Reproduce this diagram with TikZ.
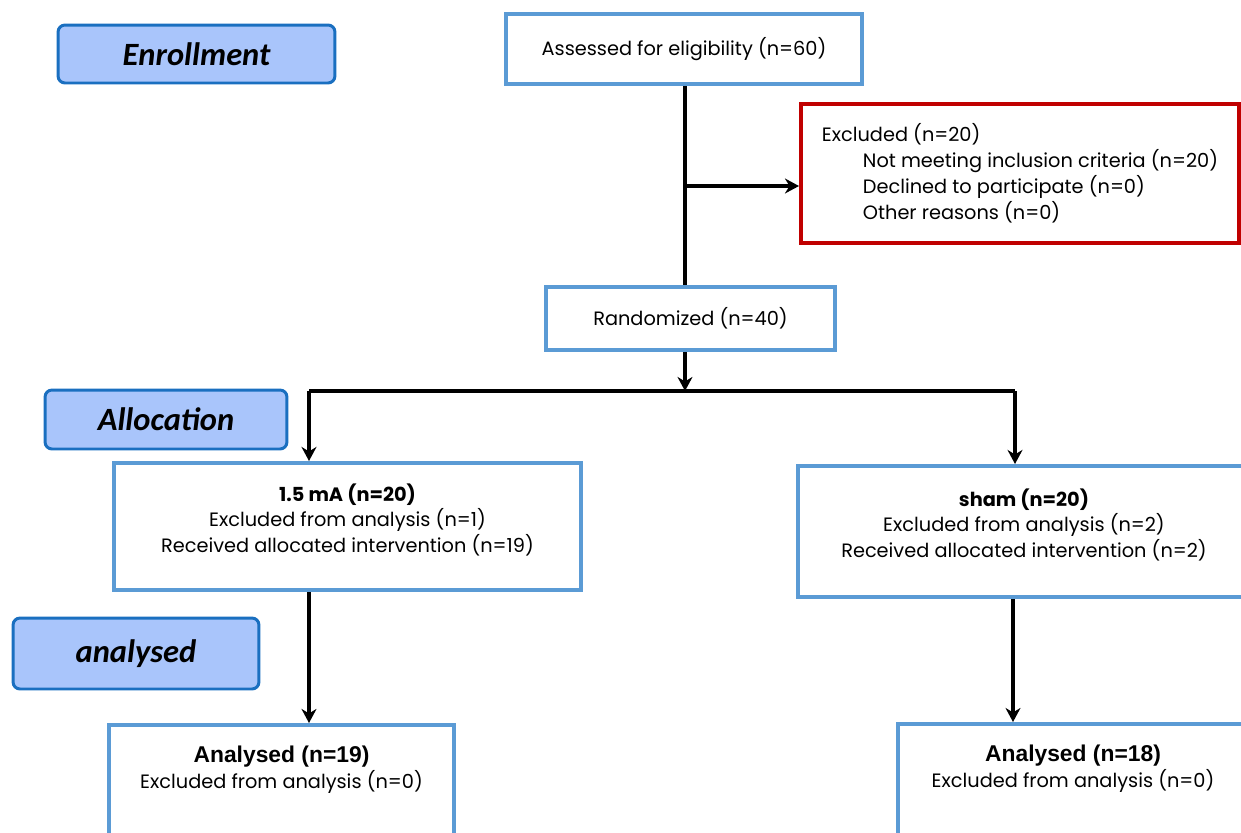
\documentclass[tikz,border=0pt]{standalone}
\usepackage{fontspec}
\setmainfont{Poppins}
\newfontfamily\stagefont{Carlito}
\newfontfamily\arialfont{Liberation Sans}
\usepackage{tikz}
\usetikzlibrary{arrows.meta}

\definecolor{boxblue}{HTML}{5B9BD5}
\definecolor{stagefill}{HTML}{A9C5FB}
\definecolor{stageline}{HTML}{1A6FC0}
\definecolor{exred}{HTML}{C00000}

\begin{document}
\begin{tikzpicture}[x=0.02cm,y=-0.02cm,>={Stealth[length=8pt,width=8.5pt]},
                    line width=2.3pt, font=\fontsize{11}{14.7}\selectfont]
  \tikzstyle{stage}=[draw=stageline,fill=stagefill,rounded corners=4pt,line width=1.7pt,
                     font=\stagefont\bfseries\itshape\fontsize{18.5}{20}\selectfont]
  \tikzstyle{flow}=[draw=boxblue,line width=2.3pt,align=center,inner sep=0pt]
  \tikzstyle{bottom}=[flow,anchor=north,inner sep=0.42cm,text depth=2.2cm]

  \useasboundingbox (0,0) rectangle (1241,832);
  \clip (0,0) rectangle (1241,832);

  % stage labels
  \node[stage,minimum width=5.54cm,minimum height=1.16cm] (enrol) at (196.5,54)  {Enrollment};
  \node[stage,minimum width=4.84cm,minimum height=1.18cm] (alloc) at (166,419.5) {Allocation};
  \node[stage,minimum width=4.92cm,minimum height=1.42cm] (anal)  at (136,653.5) {analysed};

  % boxes
  \node[flow,minimum width=7.12cm,minimum height=1.4cm] (assess) at (684,49) {Assessed for eligibility (n=60)};
  \node[draw=exred,line width=2.3pt,align=left,minimum width=8.76cm,
        minimum height=2.78cm] (excl) at (1020,173.5)
       {Excluded (n=20)\\
        \hspace*{0.82cm}Not meeting inclusion criteria (n=20)\\
        \hspace*{0.82cm}Declined to participate (n=0)\\
        \hspace*{0.82cm}Other reasons (n=0)};
  \node[flow,minimum width=5.78cm,minimum height=1.26cm] (rand) at (690.5,318.5) {Randomized (n=40)};
  \node[flow,minimum width=9.34cm,minimum height=2.54cm,text depth=9.5pt] (grpA) at (347.5,526.5)
       {\textbf{1.5 mA (n=20)}\\Excluded from analysis (n=1)\\Received allocated intervention (n=19)};
  \node[flow,minimum width=9.04cm,minimum height=2.62cm,text depth=9.5pt] (grpB) at (1024,531.5)
       {\textbf{sham (n=20)}\\Excluded from analysis (n=2)\\Received allocated intervention (n=2)};
  \node[bottom,minimum width=6.9cm] (anA) at (281.5,723)
       {{\arialfont\bfseries\fontsize{13}{14}\selectfont Analysed (n=19)}\\Excluded from analysis (n=0)};
  \node[bottom,minimum width=7cm] (anB) at (1073,722)
       {{\arialfont\bfseries\fontsize{13}{14}\selectfont Analysed (n=18)}\\Excluded from analysis (n=0)};

  % connectors
  \coordinate (ex)  at (685,186);
  \coordinate (mid) at (685,391);
  \coordinate (sL)  at (309,391);
  \coordinate (sR)  at (1015,391);

  \draw (assess.south -| ex) -- (rand.north -| ex);
  \draw[->] (ex) -- (ex -| excl.west);
  \draw[->] (rand.south -| mid) -- (mid);
  \draw (sL) -- (sR);
  \draw[->] (sL) -- (sL |- grpA.north);
  \draw[->] (sR) -- (sR |- grpB.north);
  \draw[->] (grpA.south -| sL) -- (anA.north -| sL);
  \draw[->] (grpB.south -| 1013,0) -- (anB.north -| 1013,0);
\end{tikzpicture}
\end{document}
